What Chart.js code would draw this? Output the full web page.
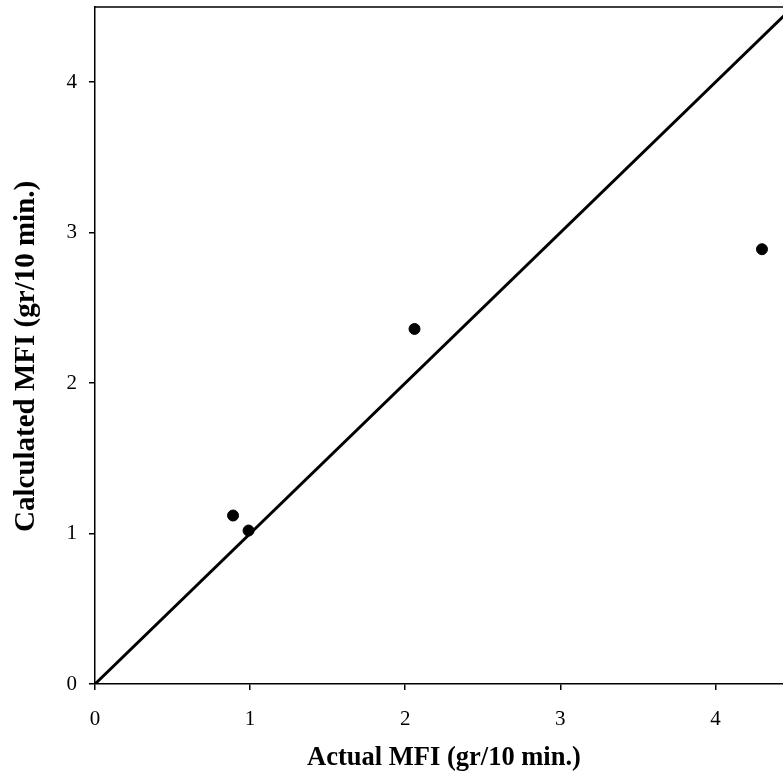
<!DOCTYPE html>
<html>
<head>
<meta charset="utf-8">
<script src="https://cdn.jsdelivr.net/npm/chart.js@4/dist/chart.umd.min.js"></script>
<style>
  html, body { margin: 0; padding: 0; background: #fff; overflow: hidden; }
  canvas { display: block; }
</style>
</head>
<body>
<canvas id="mfiChart" width="800" height="777"></canvas>
<script>
const actualMFI = [0.89, 0.99, 2.06, 4.30];
const calculatedMFI = [1.12, 1.02, 2.36, 2.89];
// y = x reference line
const lineX = [0, 4.5];
const lineY = [0, 4.5];
const tickValues = [0, 1, 2, 3, 4];

const serif = "'Liberation Serif', 'Times New Roman', serif";

// top frame line
const topBorder = {
  id: 'topBorder',
  afterDraw(chart) {
    const { ctx, chartArea } = chart;
    ctx.save();
    ctx.strokeStyle = '#000';
    ctx.lineWidth = 1.5;
    ctx.beginPath();
    ctx.moveTo(chartArea.left, chartArea.top);
    ctx.lineTo(chartArea.right, chartArea.top);
    ctx.stroke();
    ctx.restore();
  }
};

function axis(titleText, titleSize, titlePadding, tickPad, fitFn) {
  return {
    type: 'linear',
    min: 0,
    max: 4.5,
    afterFit: fitFn,
    afterBuildTicks: s => { s.ticks = tickValues.map(v => ({ value: v })); },
    grid: { drawOnChartArea: false, drawTicks: true, tickLength: 6, color: '#000', lineWidth: 1.5 },
    border: { display: true, color: '#000', width: 1.5 },
    ticks: { color: '#000', font: { family: serif, size: 21 }, padding: tickPad },
    title: { display: true, text: titleText, color: '#000', padding: titlePadding,
             font: { family: serif, size: titleSize, weight: 'bold' } }
  };
}

const ctx = document.getElementById('mfiChart').getContext('2d');
new Chart(ctx, {
  type: 'scatter',
  data: {
    datasets: [
      {
        label: 'y = x',
        data: lineX.map((x, i) => ({ x: x, y: lineY[i] })),
        showLine: true,
        borderColor: '#000',
        borderWidth: 3,
        pointRadius: 0,
        order: 2
      },
      {
        label: 'MFI',
        data: actualMFI.map((x, i) => ({ x: x, y: calculatedMFI[i] })),
        backgroundColor: '#000',
        borderColor: '#000',
        pointRadius: 5.5,
        order: 1
      }
    ]
  },
  options: {
    responsive: false,
    animation: false,
    layout: { padding: { top: 7, right: 7, left: 0, bottom: 0 } },
    plugins: { legend: { display: false }, tooltip: { enabled: false } },
    scales: {
      x: axis('Actual MFI (gr/10 min.)', 26.5, { top: 0, bottom: 3 }, 17,
              s => { s.height = 93; s.paddingLeft = 0; s.paddingRight = 0; }),
      y: axis('Calculated MFI (gr/10 min.)   ', 29, { top: 9, bottom: 0 }, 12,
              s => { s.width = 95; s.paddingTop = 0; s.paddingBottom = 0; })
    }
  },
  plugins: [topBorder]
});
</script>
</body>
</html>
